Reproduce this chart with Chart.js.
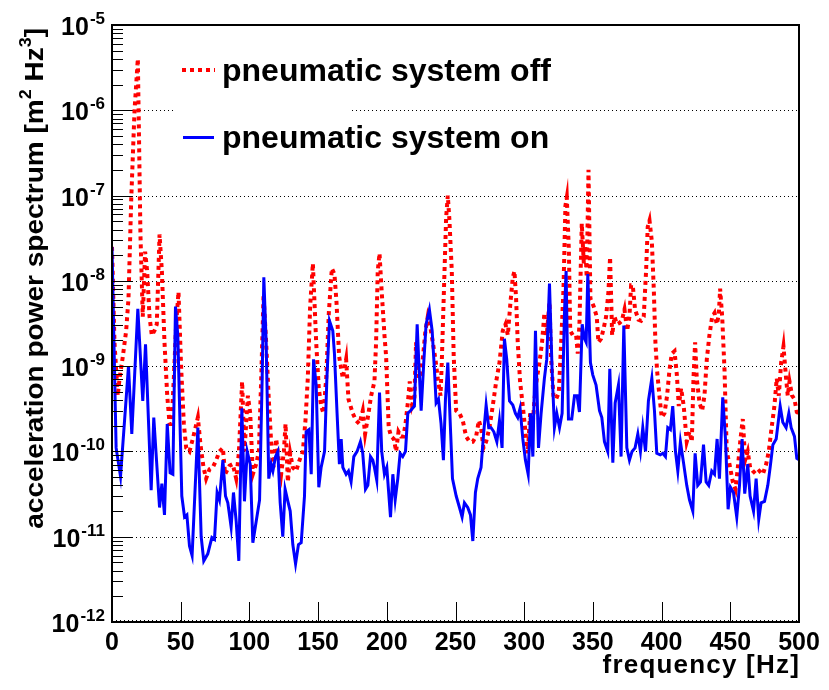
<!DOCTYPE html>
<html>
<head>
<meta charset="utf-8">
<script src="https://cdn.jsdelivr.net/npm/chart.js@4.4.1/dist/chart.umd.min.js"></script>
<style>
  html, body { margin: 0; padding: 0; background: #fff; }
  canvas { display: block; }
</style>
</head>
<body>
<canvas id="psd" width="829" height="690"></canvas>
<script>
// pneumatic system on (blue, solid)
const freqOn = [
  0, 3.0, 6.2, 12.0, 14.4, 18.8, 22.4, 24.4, 28.5, 30.4,
  34.6, 36.3, 38.2, 40.2, 42.3, 44.3, 46.2, 47.9, 50.8, 52.8,
  54.5, 56.4, 58.3, 62.5, 64.9, 66.8, 69.7, 72.7, 74.6, 76.5,
  78.2, 80.7, 82.6, 84.3, 86.7, 88.4, 90.4, 92.3, 94.5, 96.4,
  98.4, 100.6, 102.5, 104.9, 107.4, 109.3, 110.5, 112.2, 114.1, 115.8,
  117.1, 119.0, 120.7, 122.4, 124.3, 126.0, 128.0, 129.7, 131.6, 133.6,
  135.7, 137.7, 140.1, 141.3, 143.3, 145.0, 146.7, 148.6, 150.5, 152.2,
  154.7, 156.4, 158.3, 160.7, 161.9, 163.8, 165.5, 166.8, 168.0, 170.4,
  172.1, 174.0, 176.0, 178.4, 180.8, 182.5, 184.5, 186.2, 188.1, 189.8,
  191.0, 192.7, 194.7, 196.3, 198.3, 200.0, 202.7, 204.4, 206.1, 208.0,
  209.7, 211.6, 213.6, 215.3, 217.2, 220.1, 222.1, 223.3, 225.0, 226.9,
  228.6, 231.0, 233.0, 234.7, 235.9, 237.6, 239.5, 241.2, 242.7, 244.4,
  246.5, 247.8, 250.5, 252.9, 254.8, 256.5, 258.9, 260.9, 262.6, 264.5,
  266.2, 268.6, 270.3, 272.3, 274.2, 275.9, 277.9, 280.1, 282.0, 283.9,
  285.6, 287.3, 289.3, 291.7, 293.6, 295.3, 297.0, 299.0, 300.9, 302.9,
  304.6, 306.3, 308.2, 310.4, 312.3, 314.7, 316.4, 318.4, 320.3, 322.0,
  323.7, 325.7, 327.6, 329.3, 330.5, 332.2, 334.6, 336.6, 338.5, 340.2,
  342.2, 343.9, 345.1, 346.3, 348.2, 349.9, 352.3, 354.8, 356.5, 358.4,
  360.8, 362.3, 364.5, 366.2, 368.6, 370.5, 372.5, 374.7, 376.6, 378.5,
  380.7, 382.7, 384.6, 386.3, 388.3, 390.4, 392.9, 394.8, 396.5, 399.0,
  400.9, 402.8, 404.5, 406.4, 408.1, 410.1, 411.8, 413.7, 416.1, 418.3,
  420.3, 422.7, 424.4, 426.3, 428.3, 430.5, 432.4, 434.3, 436.5, 438.5,
  440.4, 442.1, 444.5, 446.5, 448.4, 450.1, 452.3, 454.7, 456.7, 458.6,
  460.5, 462.7, 464.4, 466.9, 468.8, 470.7, 472.4, 474.9, 477.3, 479.0,
  481.0, 483.4, 486.3, 488.2, 490.6, 492.6, 494.3, 496.7, 498.4, 500.0
];
const powerOn = [
  2.5e-8, 1.1e-10, 5.1e-11, 1.0e-9, 1.6e-10, 4.7e-9, 3.9e-10, 1.8e-9, 3.5e-11, 2.5e-10,
  2.2e-11, 4.2e-11, 1.8e-11, 2.1e-10, 5.6e-11, 5.4e-11, 5.0e-9, 2.3e-9, 3.0e-11, 1.7e-11,
  1.8e-11, 7.8e-12, 6.0e-12, 1.9e-10, 1.0e-11, 5.2e-12, 6.3e-12, 9.8e-12, 9.3e-12, 3.3e-11,
  2.7e-11, 7.9e-11, 3.0e-11, 2.5e-11, 1.3e-11, 3.3e-11, 1.5e-11, 5.2e-12, 3.2e-10, 2.6e-11,
  1.0e-10, 7.1e-11, 8.5e-12, 1.5e-11, 2.7e-11, 7.2e-10, 1.1e-8, 1.9e-9, 4.8e-11, 7.1e-11,
  5.9e-11, 8.7e-11, 1.0e-10, 2.5e-11, 1.0e-11, 3.6e-11, 2.6e-11, 2.0e-11, 8.1e-12, 4.8e-12,
  8.1e-12, 8.5e-12, 3.0e-11, 1.7e-10, 1.8e-10, 5.4e-11, 1.2e-9, 6.0e-10, 3.8e-11, 6.5e-11,
  1.0e-10, 7.2e-10, 3.4e-9, 2.6e-9, 1.4e-9, 2.8e-10, 7.1e-11, 1.4e-10, 6.5e-11, 5.4e-11,
  5.9e-11, 4.4e-11, 8.7e-11, 1.0e-10, 1.3e-10, 9.5e-11, 3.6e-11, 4.0e-11, 8.7e-11, 7.9e-11,
  6.5e-11, 4.6e-11, 4.9e-10, 1.0e-10, 5.4e-11, 6.5e-11, 1.7e-11, 5.4e-11, 2.7e-11, 4.8e-11,
  9.5e-11, 8.7e-11, 1.0e-10, 2.8e-10, 3.0e-10, 3.4e-10, 3.1e-9, 1.1e-9, 3.0e-10, 1.1e-9,
  3.1e-9, 4.6e-9, 2.6e-9, 8.9e-10, 3.7e-10, 4.1e-10, 2.1e-10, 7.9e-11, 4.1e-10, 1.1e-9,
  1.6e-10, 4.8e-11, 3.0e-11, 2.2e-11, 1.7e-11, 2.5e-11, 2.2e-11, 1.8e-11, 8.9e-12, 3.3e-11,
  4.8e-11, 6.5e-11, 1.5e-10, 3.5e-10, 1.9e-10, 1.9e-10, 1.7e-10, 1.3e-10, 2.3e-10, 1.1e-10,
  2.1e-9, 1.2e-9, 3.9e-10, 3.5e-10, 2.8e-10, 2.5e-10, 3.2e-10, 1.4e-10, 7.9e-11, 5.4e-11,
  2.8e-10, 8.7e-11, 2.6e-9, 1.1e-10, 2.8e-10, 7.2e-10, 1.2e-9, 9.3e-9, 8.9e-10, 1.9e-10,
  2.8e-10, 1.9e-10, 2.8e-10, 4.2e-9, 1.3e-8, 2.4e-10, 2.4e-10, 4.5e-10, 4.5e-10, 2.9e-10,
  3.1e-9, 2.1e-9, 1.9e-9, 1.2e-8, 1.1e-9, 7.9e-10, 6.0e-10, 3.0e-10, 2.5e-10, 1.3e-10,
  1.0e-10, 9.3e-10, 7.4e-11, 3.7e-10, 6.0e-10, 8.7e-11, 3.0e-9, 1.1e-10, 7.9e-11, 1.0e-10,
  1.1e-10, 1.6e-10, 1.0e-10, 1.9e-10, 1.0e-10, 3.9e-10, 7.2e-10, 3.0e-10, 9.5e-11, 9.1e-11,
  9.5e-11, 8.7e-11, 1.9e-10, 1.8e-10, 3.4e-10, 1.0e-10, 5.9e-11, 1.3e-10, 7.1e-11, 4.0e-11,
  2.7e-11, 2.0e-11, 9.5e-11, 4.0e-11, 4.4e-11, 1.2e-10, 4.4e-11, 4.0e-11, 5.9e-11, 5.4e-11,
  1.4e-10, 4.8e-11, 4.3e-10, 1.4e-10, 2.1e-11, 3.8e-11, 3.3e-11, 1.7e-11, 4.0e-11, 1.4e-10,
  3.2e-11, 7.1e-11, 3.0e-11, 2.0e-11, 4.8e-11, 1.6e-11, 2.5e-11, 2.6e-11, 4.0e-11, 6.5e-11,
  1.2e-10, 1.4e-10, 3.4e-10, 2.2e-10, 1.9e-10, 2.8e-10, 1.9e-10, 1.5e-10, 8.3e-11, 8.0e-11
];

// pneumatic system off (red, dotted)
const freqOff = [
  0, 1.8, 4.2, 5.5, 7.9, 10.3, 12.0, 14.0, 16.4, 18.8,
  20.7, 22.4, 24.1, 25.6, 27.3, 29.0, 30.9, 32.6, 34.6, 36.3,
  38.2, 40.2, 41.9, 43.3, 45.0, 46.7, 48.4, 50.3, 52.3, 54.0,
  56.4, 58.8, 62.5, 64.4, 66.6, 68.5, 71.0, 73.4, 75.8, 78.2,
  80.7, 82.3, 85.5, 87.9, 90.4, 92.3, 94.7, 96.4, 98.9, 100.6,
  102.5, 104.9, 106.9, 108.6, 110.3, 112.2, 114.1, 115.8, 117.5, 119.5,
  121.4, 123.1, 125.1, 126.3, 128.0, 129.7, 131.6, 134.0, 136.5, 138.9,
  140.8, 142.5, 144.2, 146.2, 148.6, 150.5, 152.2, 153.9, 155.9, 157.8,
  160.0, 161.9, 163.4, 165.3, 168.0, 170.4, 172.1, 175.2, 177.7, 180.1,
  182.5, 184.2, 186.2, 188.6, 191.0, 192.2, 193.4, 194.7, 196.3, 198.3,
  199.5, 201.4, 203.1, 205.1, 206.8, 208.5, 210.4, 212.1, 213.6, 215.3,
  216.7, 218.4, 220.1, 221.3, 223.0, 224.5, 226.2, 228.1, 229.8, 231.8,
  233.5, 235.4, 237.1, 239.1, 240.0, 242.0, 243.2, 244.4, 245.6, 247.3,
  248.7, 250.5, 252.9, 255.3, 257.7, 260.2, 262.6, 265.0, 267.0, 268.6,
  270.3, 272.3, 274.7, 277.1, 279.6, 282.0, 284.4, 286.4, 288.1, 290.0,
  291.7, 292.9, 294.1, 295.3, 297.0, 299.0, 300.9, 302.6, 304.3, 305.8,
  307.5, 309.2, 311.1, 313.0, 314.7, 316.4, 318.4, 319.6, 321.3, 323.2,
  325.2, 326.9, 328.6, 330.0, 331.0, 332.5, 333.5, 335.4, 337.8, 339.0,
  340.2, 341.9, 343.4, 344.3, 345.5, 346.8, 348.2, 350.6, 352.8, 354.0,
  356.0, 357.9, 359.6, 361.3, 362.5, 364.0, 365.7, 367.6, 369.3, 371.0,
  373.0, 374.9, 376.6, 377.8, 379.0, 380.7, 383.2, 385.1, 387.0, 388.7,
  389.9, 391.2, 392.9, 394.3, 395.5, 396.7, 398.4, 400.1, 402.1, 404.0,
  405.7, 407.4, 409.4, 411.1, 412.5, 414.2, 416.1, 418.3, 420.3, 422.0,
  423.2, 424.4, 425.6, 427.6, 429.5, 431.2, 432.9, 434.8, 436.8, 438.5,
  440.2, 441.6, 442.6, 444.1, 445.8, 447.4, 449.4, 451.8, 453.8, 455.5,
  457.4, 459.1, 460.8, 462.7, 464.4, 466.4, 468.8, 471.2, 473.7, 476.1,
  478.0, 479.7, 482.1, 483.8, 485.3, 487.0, 488.7, 490.6, 491.8, 493.1,
  495.0, 496.7, 498.4, 500.0
];
const powerOff = [
  2.5e-8, 1.9e-9, 4.5e-10, 7.2e-10, 1.3e-9, 2.6e-9, 6.2e-9, 9.1e-8, 1.0e-6, 4.0e-6,
  3.5e-8, 3.8e-9, 2.2e-8, 1.3e-8, 3.8e-9, 2.3e-9, 2.6e-9, 3.1e-9, 3.5e-8, 1.3e-8,
  1.9e-9, 4.5e-10, 2.1e-10, 2.1e-10, 7.2e-10, 3.1e-9, 7.4e-9, 9.8e-10, 2.1e-10, 1.1e-10,
  1.0e-10, 1.4e-10, 2.5e-10, 1.2e-10, 6.5e-11, 4.8e-11, 6.2e-11, 6.5e-11, 7.9e-11, 1.0e-10,
  1.1e-10, 5.4e-11, 6.8e-11, 7.1e-11, 4.8e-11, 9.5e-11, 6.6e-10, 1.0e-10, 4.5e-10, 2.8e-10,
  5.4e-11, 7.1e-11, 1.0e-10, 7.2e-10, 6.8e-9, 1.9e-9, 4.1e-10, 1.3e-10, 6.5e-11, 1.4e-10,
  7.9e-11, 5.4e-11, 1.0e-10, 2.1e-10, 4.4e-11, 9.5e-11, 6.5e-11, 5.9e-11, 7.9e-11, 1.0e-10,
  2.3e-10, 7.2e-10, 5.0e-9, 1.6e-8, 1.9e-9, 5.5e-10, 3.4e-10, 2.8e-10, 7.2e-10, 4.2e-9,
  1.4e-8, 1.2e-8, 5.6e-9, 1.3e-9, 7.2e-10, 1.2e-9, 4.1e-10, 2.8e-10, 2.3e-10, 2.1e-10,
  3.0e-10, 1.6e-10, 2.5e-10, 4.5e-10, 6.6e-10, 1.9e-9, 1.3e-8, 2.1e-8, 7.4e-9, 2.3e-9,
  1.3e-9, 1.9e-10, 1.5e-10, 1.4e-10, 1.0e-10, 1.7e-10, 1.5e-10, 1.5e-10, 2.1e-10, 3.7e-10,
  6.6e-10, 3.5e-10, 4.3e-10, 1.9e-9, 7.2e-10, 7.9e-10, 1.2e-9, 2.6e-9, 3.8e-9, 2.8e-9,
  1.9e-9, 1.2e-9, 7.2e-10, 4.5e-10, 1.1e-9, 1.3e-8, 5.6e-8, 1.0e-7, 5.1e-8, 1.3e-8,
  1.3e-9, 3.0e-10, 2.8e-10, 2.3e-10, 1.5e-10, 1.3e-10, 1.3e-10, 1.5e-10, 2.3e-10, 1.9e-10,
  1.1e-10, 1.3e-10, 1.9e-10, 3.4e-10, 6.6e-10, 1.1e-9, 2.6e-9, 3.1e-9, 2.3e-9, 5.6e-9,
  1.1e-8, 1.3e-8, 6.2e-9, 1.9e-9, 6.6e-10, 3.4e-10, 1.7e-10, 9.5e-11, 2.8e-10, 1.7e-10,
  4.1e-10, 7.2e-10, 1.1e-9, 1.9e-9, 4.2e-9, 2.3e-9, 5.6e-9, 1.2e-9, 4.5e-10, 4.1e-10,
  4.9e-10, 1.9e-9, 8.1e-9, 7.6e-8, 9.5e-8, 2.3e-8, 2.6e-9, 2.3e-9, 2.3e-9, 1.4e-9,
  3.1e-9, 4.7e-8, 1.6e-8, 2.9e-8, 1.1e-8, 2.0e-7, 6.2e-9, 5.0e-9, 3.8e-9, 1.9e-9,
  2.1e-9, 2.8e-9, 3.8e-9, 7.4e-9, 1.9e-8, 2.3e-9, 3.8e-9, 3.1e-9, 3.2e-9, 3.4e-9,
  4.6e-9, 2.6e-9, 3.8e-9, 8.9e-9, 8.9e-9, 4.6e-9, 3.5e-9, 3.4e-9, 3.8e-9, 1.3e-8,
  4.3e-8, 5.1e-8, 2.9e-8, 8.1e-9, 1.9e-9, 8.9e-10, 4.5e-10, 2.5e-10, 2.8e-10, 4.5e-10,
  8.9e-10, 1.4e-9, 1.5e-9, 7.9e-10, 3.4e-10, 5.5e-10, 3.4e-10, 1.3e-10, 1.7e-10, 1.3e-10,
  7.2e-10, 1.9e-9, 7.2e-10, 3.7e-10, 3.0e-10, 4.5e-10, 1.2e-9, 2.3e-9, 3.8e-9, 4.2e-9,
  3.1e-9, 4.0e-9, 8.1e-9, 3.8e-9, 8.9e-10, 1.0e-10, 7.1e-11, 4.4e-11, 3.6e-11, 6.5e-11,
  1.4e-10, 2.4e-10, 7.9e-11, 1.0e-10, 6.5e-11, 5.9e-11, 5.4e-11, 5.9e-11, 5.4e-11, 7.1e-11,
  1.0e-10, 1.7e-10, 3.4e-10, 7.2e-10, 4.5e-10, 1.1e-9, 1.7e-9, 7.2e-10, 4.5e-10, 6.6e-10,
  4.5e-10, 4.1e-10, 2.9e-10, 2.8e-10
];

const xTicks = [0, 50, 100, 150, 200, 250, 300, 350, 400, 450, 500];
const yDecades = [-12, -11, -10, -9, -8, -7, -6, -5];
const legendLabels = ['pneumatic system off', 'pneumatic system on'];
const xTitle = 'frequency [Hz]';

const FONT = '"Liberation Sans", Arial, Helvetica, sans-serif';

let toPoints = (xs, ys) => xs.map((x, i) => ({x: x, y: ys[i]}));

// ROOT-like frame: dotted decade grid, inside ticks, 10^n labels, legend box
const rootStyle = {
  id: 'rootStyle',
  beforeDatasetsDraw(chart) {
    const {ctx, chartArea: a, scales: {y}} = chart;
    ctx.save();
    ctx.strokeStyle = '#000';
    ctx.lineWidth = 1;
    ctx.setLineDash([1, 3]);
    yDecades.forEach(e => {
      if (e === -5) return;
      let py = Math.round(y.getPixelForValue(Math.pow(10, e))) + 0.5;
      if (e === -12) py -= 2;
      ctx.beginPath();
      ctx.moveTo(a.left, py);
      ctx.lineTo(a.right, py);
      ctx.stroke();
    });
    ctx.setLineDash([]);
    // legend box hides part of the grid
    ctx.fillStyle = '#fff';
    ctx.fillRect(175, 42, 176, 130);
    ctx.restore();
  },
  afterDatasetsDraw(chart) {
    const {ctx, chartArea: a, scales: {x, y}} = chart;
    ctx.save();
    ctx.strokeStyle = '#000';
    ctx.fillStyle = '#000';

    // frame
    ctx.lineWidth = 2;
    ctx.strokeRect(a.left, a.top, a.right - a.left, a.bottom - a.top);

    // y ticks (major + minor)
    ctx.lineWidth = 1;
    yDecades.forEach(e => {
      for (let k = 1; k <= 9; k++) {
        if (e === -5 && k > 1) break;
        const py = Math.round(y.getPixelForValue(k * Math.pow(10, e))) + 0.5;
        const len = k === 1 ? 20 : 11;
        ctx.beginPath();
        ctx.moveTo(a.left, py);
        ctx.lineTo(a.left + len, py);
        ctx.stroke();
      }
    });

    // x ticks
    xTicks.forEach(v => {
      const px = Math.round(x.getPixelForValue(v)) + 0.5;
      ctx.beginPath();
      ctx.moveTo(px, a.bottom);
      ctx.lineTo(px, a.bottom - 20);
      ctx.stroke();
    });

    // y labels 10^n
    ctx.textAlign = 'left';
    ctx.textBaseline = 'alphabetic';
    yDecades.forEach(e => {
      const ty = y.getPixelForValue(Math.pow(10, e));
      const exp = String(e);
      ctx.font = 'bold 17px ' + FONT;
      const ew = ctx.measureText(exp).width;
      ctx.fillText(exp, 105 - ew, ty - 1);
      ctx.font = 'bold 25px ' + FONT;
      const bw = ctx.measureText('10').width;
      ctx.fillText('10', 105 - ew - 1 - bw, ty + 10);
    });

    // x labels
    ctx.font = 'bold 25px ' + FONT;
    ctx.textAlign = 'center';
    xTicks.forEach(v => {
      ctx.fillText(String(v), x.getPixelForValue(v), 650);
    });

    // x title
    ctx.font = 'bold 26px ' + FONT;
    ctx.letterSpacing = '1.2px';
    ctx.textAlign = 'right';
    ctx.fillText(xTitle, 800, 673);
    ctx.letterSpacing = '0px';

    // y title with superscripts, stretched along its length like the ROOT text
    const parts = [
      ['acceleration power spectrum [m', false],
      ['2', true],
      [' Hz', false],
      ['3', true],
      [']', false]
    ];
    const stretch = 1.12;
    ctx.textAlign = 'left';
    let total = 0;
    parts.forEach(p => {
      ctx.font = (p[1] ? 'bold 16px ' : 'bold 25px ') + FONT;
      total += ctx.measureText(p[0]).width;
    });
    ctx.translate(43, 28 + total * stretch);
    ctx.rotate(-Math.PI / 2);
    ctx.scale(stretch, 1);
    let u = 0;
    parts.forEach(p => {
      ctx.font = (p[1] ? 'bold 16px ' : 'bold 25px ') + FONT;
      ctx.fillText(p[0], u, p[1] ? -12 : 0);
      u += ctx.measureText(p[0]).width;
    });
    ctx.restore();

    // legend
    ctx.save();
    ctx.lineCap = 'butt';
    ctx.strokeStyle = '#ff0000';
    ctx.lineWidth = 4;
    ctx.setLineDash([4, 4]);
    ctx.beginPath();
    ctx.moveTo(182, 70);
    ctx.lineTo(215, 70);
    ctx.stroke();
    ctx.setLineDash([]);
    ctx.strokeStyle = '#0000ff';
    ctx.lineWidth = 3;
    ctx.beginPath();
    ctx.moveTo(183, 137.5);
    ctx.lineTo(214, 137.5);
    ctx.stroke();
    ctx.fillStyle = '#000';
    ctx.font = 'bold 32px ' + FONT;
    ctx.textAlign = 'left';
    ctx.fillText(legendLabels[0], 222, 81);
    ctx.fillText(legendLabels[1], 222, 148);
    ctx.restore();
  }
};

new Chart(document.getElementById('psd'), {
  type: 'line',
  data: {
    datasets: [
      {
        label: legendLabels[1],
        data: toPoints(freqOn, powerOn),
        borderColor: '#0000ff',
        borderWidth: 3,
        pointRadius: 0,
        tension: 0,
        fill: false
      },
      {
        label: legendLabels[0],
        data: toPoints(freqOff, powerOff),
        borderColor: '#ff0000',
        borderWidth: 4,
        borderDash: [4, 4],
        borderCapStyle: 'butt',
        pointRadius: 0,
        tension: 0,
        fill: false
      }
    ]
  },
  options: {
    responsive: false,
    animation: false,
    devicePixelRatio: 1,
    events: [],
    layout: { padding: { left: 112, right: 30, top: 25, bottom: 68 } },
    plugins: {
      legend: { display: false },
      tooltip: { enabled: false }
    },
    scales: {
      x: { type: 'linear', min: 0, max: 500, display: false },
      y: { type: 'logarithmic', min: 1e-12, max: 1e-5, display: false }
    }
  },
  plugins: [rootStyle]
});
</script>
</body>
</html>
